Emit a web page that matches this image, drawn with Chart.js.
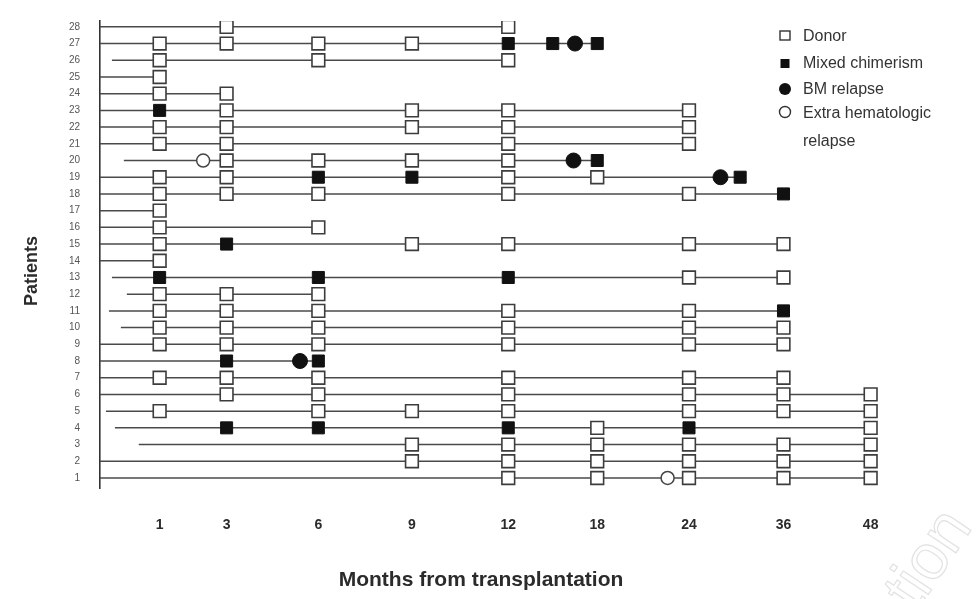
<!DOCTYPE html>
<html>
<head>
<meta charset="utf-8">
<title>Chimerism and relapse after transplantation</title>
<script src="https://cdn.jsdelivr.net/npm/chart.js@4.4.1/dist/chart.umd.min.js"></script>
<style>
  html, body { margin: 0; padding: 0; background: #fff; }
</style>
</head>
<body>
<canvas id="chimerismChart" width="979" height="599"></canvas>
<script>
// Time points on the x axis (months from transplantation)
const months = [1, 3, 6, 9, 12, 18, 24, 36, 48];
// Axis slot of each time point (the original spacing is not proportional to time)
const monthSlots = [0, 0.73, 1.73, 2.75, 3.8, 4.77, 5.77, 6.8, 7.75];

// Patients 1..28 (bottom to top)
const patients = Array.from({ length: 28 }, (_, i) => i + 1);

// Follow-up line for each patient, patients 1..28 (months)
const lineStart = [0, 0, 0.65, 0.25, 0.1, 0, 0, 0, 0, 0.35, 0.15, 0.45, 0.2, 0, 0, 0, 0, 0, 0, 0.4, 0, 0, 0, 0, 0, 0.2, 0, 0];
const lineEnd = [48, 48, 48, 48, 48, 48, 36, 6, 36, 36, 36, 6, 36, 1, 36, 6, 1, 36, 30.5, 18, 24, 24, 24, 3, 1, 12, 18, 12];

// Sample results per patient 1..28 (months)
const donor = [
  [12, 18, 24, 36, 48],        // 1
  [9, 12, 18, 24, 36, 48],     // 2
  [9, 12, 18, 24, 36, 48],     // 3
  [18, 48],                    // 4
  [1, 6, 9, 12, 24, 36, 48],   // 5
  [3, 6, 12, 24, 36, 48],      // 6
  [1, 3, 6, 12, 24, 36],       // 7
  [],                          // 8
  [1, 3, 6, 12, 24, 36],       // 9
  [1, 3, 6, 12, 24, 36],       // 10
  [1, 3, 6, 12, 24],           // 11
  [1, 3, 6],                   // 12
  [24, 36],                    // 13
  [1],                         // 14
  [1, 9, 12, 24, 36],          // 15
  [1, 6],                      // 16
  [1],                         // 17
  [1, 3, 6, 12, 24],           // 18
  [1, 3, 12, 18],              // 19
  [3, 6, 9, 12],               // 20
  [1, 3, 12, 24],              // 21
  [1, 3, 9, 12, 24],           // 22
  [3, 9, 12, 24],              // 23
  [1, 3],                      // 24
  [1],                         // 25
  [1, 6, 12],                  // 26
  [1, 3, 6, 9],                // 27
  [3, 12]                      // 28
];
const mixed = [
  [], [], [], [3, 6, 12, 24], [], [], [], [3, 6], [], [],
  [36], [], [1, 6, 12], [], [3], [], [], [36], [6, 9, 30.5], [18],
  [], [], [1], [], [], [], [12, 15, 18], []
];
const bmRelapse = [
  [], [], [], [], [], [], [], [5.4], [], [],
  [], [], [], [], [], [], [], [], [28], [16.4],
  [], [], [], [], [], [], [16.5], []
];
const extraRelapse = [
  [22.6], [], [], [], [], [], [], [], [], [],
  [], [], [], [], [], [], [], [], [], [2.3],
  [], [], [], [], [], [], [], []
];

const legendLabels = ["Donor", "Mixed chimerism", "BM relapse", "Extra hematologic", "relapse"];

// month -> axis slot, interpolating between the labelled time points
function slotOf(m) {
  if (m <= months[0]) return monthSlots[0] - (months[0] - m) * 0.65;
  for (let i = 1; i < months.length; i++) {
    if (m <= months[i]) {
      const t = (m - months[i - 1]) / (months[i] - months[i - 1]);
      return monthSlots[i - 1] + t * (monthSlots[i] - monthSlots[i - 1]);
    }
  }
  return monthSlots[monthSlots.length - 1];
}

function markerPoints(list) {
  const pts = [];
  list.forEach((ms, i) => ms.forEach((m) => pts.push({ x: slotOf(m), y: patients[i] })));
  return pts;
}

const INK = "#2b2b2b";

const markerSets = [
  { label: "Donor", data: markerPoints(donor), pointStyle: "rect", pointRadius: 9,
    backgroundColor: "#fff", borderColor: "#3c3c3c", borderWidth: 1.6 },
  { label: "Mixed chimerism", data: markerPoints(mixed), pointStyle: "rect", pointRadius: 8.5,
    backgroundColor: "#111", borderColor: "#111", borderWidth: 1 },
  { label: "BM relapse", data: markerPoints(bmRelapse), pointStyle: "circle", pointRadius: 7.5,
    backgroundColor: "#111", borderColor: "#111", borderWidth: 1 },
  { label: "Extra hematologic relapse", data: markerPoints(extraRelapse), pointStyle: "circle", pointRadius: 6.5,
    backgroundColor: "#fff", borderColor: "#444", borderWidth: 1.5 }
].map((d) => Object.assign(d, { showLine: false, order: 0, pointHoverRadius: d.pointRadius }));

const lineSets = patients.map((p, i) => ({
  label: "Patient " + p,
  data: [{ x: slotOf(lineStart[i]), y: p }, { x: slotOf(lineEnd[i]), y: p }],
  showLine: true,
  borderColor: "#4a4a4a",
  borderWidth: 1.5,
  pointRadius: 0,
  order: 1
}));

// Axis titles, placed like the scanned figure, plus the faint scan watermark
const axisTitles = {
  id: "axisTitles",
  afterDraw(chart) {
    const ctx = chart.ctx;
    ctx.save();
    ctx.fillStyle = INK;
    ctx.textAlign = "center";
    ctx.textBaseline = "middle";
    ctx.font = "bold 21px 'Liberation Sans', Arial, sans-serif";
    ctx.fillText("Months from transplantation", 481, 580);
    ctx.save();
    ctx.translate(32, 271);
    ctx.rotate(-Math.PI / 2);
    ctx.font = "bold 18px 'Liberation Sans', Arial, sans-serif";
    ctx.fillText("Patients", 0, 0);
    ctx.restore();
    ctx.translate(930, 560);
    ctx.rotate(-Math.PI / 3.2);
    ctx.font = "64px 'Liberation Sans', Arial, sans-serif";
    ctx.strokeStyle = "#e2e2e2";
    ctx.lineWidth = 1.2;
    ctx.strokeText("tion", 0, 0);
    ctx.restore();
  }
};

// Legend in the top right corner, drawn over the plot like the original
const cornerLegend = {
  id: "cornerLegend",
  afterDraw(chart) {
    const ctx = chart.ctx;
    const x0 = 785, tx = 803;
    const rows = [37, 64, 90, 114, 142];
    ctx.save();
    ctx.font = "16px 'Liberation Sans', Arial, sans-serif";
    ctx.textBaseline = "middle";
    ctx.fillStyle = "#333";
    legendLabels.forEach((t, i) => ctx.fillText(t, tx, rows[i]));
    ctx.lineWidth = 1.4;
    ctx.strokeStyle = "#333";
    ctx.fillStyle = "#fff";
    ctx.fillRect(x0 - 5, rows[0] - 6, 10, 9);
    ctx.strokeRect(x0 - 5, rows[0] - 6, 10, 9);
    ctx.fillStyle = "#111";
    ctx.fillRect(x0 - 4.5, rows[1] - 5, 9, 9);
    ctx.beginPath();
    ctx.arc(x0, rows[2] - 1, 6, 0, Math.PI * 2);
    ctx.fill();
    ctx.beginPath();
    ctx.arc(x0, rows[3] - 2, 5.5, 0, Math.PI * 2);
    ctx.fillStyle = "#fff";
    ctx.fill();
    ctx.stroke();
    ctx.restore();
  }
};

const ctx = document.getElementById("chimerismChart").getContext("2d");
const chimerismChart = new Chart(ctx, {
  type: "scatter",
  data: { datasets: markerSets.concat(lineSets) },
  options: {
    responsive: false,
    animation: false,
    layout: { padding: { top: 21, right: 79, bottom: 0, left: 0 } },
    plugins: {
      legend: { display: false },
      tooltip: { enabled: false }
    },
    scales: {
      x: {
        type: "linear",
        min: slotOf(0),
        max: 8.07,
        afterBuildTicks: (scale) => {
          scale.ticks = monthSlots.map((v) => ({ value: v }));
        },
        afterFit: (scale) => { scale.height = 111; },
        ticks: {
          callback: (v, i) => months[i],
          autoSkip: false,
          maxRotation: 0,
          padding: 21,
          color: INK,
          font: { family: "'Liberation Sans Narrow', 'Liberation Sans', Arial, sans-serif", size: 14, weight: "bold" }
        },
        grid: { display: false },
        border: { display: false }
      },
      y: {
        type: "linear",
        min: 0.4,
        max: 28.35,
        afterBuildTicks: (scale) => {
          scale.ticks = patients.map((v) => ({ value: v }));
        },
        afterFit: (scale) => { scale.width = 100; },
        ticks: {
          autoSkip: false,
          padding: 12,
          color: "#555",
          font: { family: "'Liberation Sans Narrow', 'Liberation Sans', Arial, sans-serif", size: 10 }
        },
        grid: { display: false },
        border: { display: true, color: "#333", width: 1.6 }
      }
    }
  },
  plugins: [axisTitles, cornerLegend]
});
</script>
</body>
</html>
